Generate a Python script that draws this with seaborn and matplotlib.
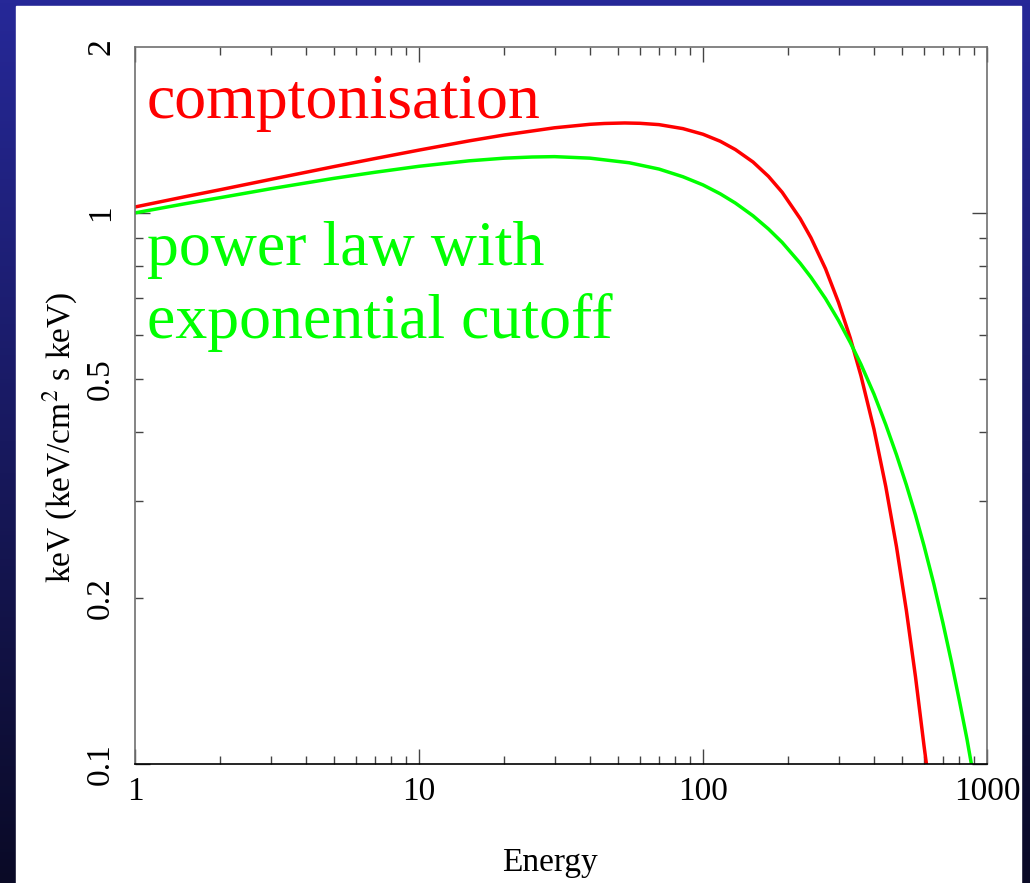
import numpy as np
import pandas as pd
import matplotlib
matplotlib.use("Agg")
import matplotlib.pyplot as plt
import seaborn as sns
from matplotlib.ticker import LogLocator, FixedLocator, NullFormatter, FixedFormatter

# ---- data ----
energy_compt = [1, 1.5, 2, 3, 5, 7, 10, 15, 20, 30, 40, 45, 53, 60, 70, 85, 100, 115, 130, 150,
                170, 190, 220, 240, 270, 300, 330, 360, 400, 440, 480, 520, 560, 600, 620, 650]
flux_compt = [1.025, 1.070, 1.102, 1.150, 1.213, 1.255, 1.300, 1.351, 1.385, 1.427, 1.448, 1.453,
              1.456, 1.454, 1.446, 1.422, 1.389, 1.349, 1.303, 1.237, 1.165, 1.090, 0.976, 0.901,
              0.792, 0.688, 0.593, 0.506, 0.405, 0.319, 0.248, 0.190, 0.144, 0.108, 0.095, 0.074]

energy_cut = [1, 1.5, 2, 3, 5, 7, 10, 15, 20, 25, 30, 40, 55, 70, 85, 100, 115, 130, 150, 170, 190,
              220, 240, 270, 300, 330, 360, 400, 440, 480, 520, 560, 600, 650, 700, 750, 800, 850,
              900, 950]
flux_cut = [1.000, 1.039, 1.066, 1.106, 1.155, 1.185, 1.215, 1.243, 1.257, 1.263, 1.265, 1.257,
            1.233, 1.201, 1.163, 1.124, 1.083, 1.042, 0.988, 0.935, 0.884, 0.810, 0.764, 0.699,
            0.638, 0.582, 0.531, 0.469, 0.413, 0.364, 0.321, 0.283, 0.249, 0.212, 0.180, 0.153,
            0.130, 0.111, 0.094, 0.080]

x_ticks = [1, 10, 100, 1000]
x_labels = ["1", "10", "100", "1000"]
y_ticks = [0.1, 0.2, 0.5, 1, 2]
y_labels = ["0.1", "0.2", "0.5", "1", "2"]

series_names = ["comptonisation", "power law with\nexponential cutoff"]

df = pd.concat([
    pd.DataFrame({"Energy": energy_compt, "flux": flux_compt, "model": "compt"}),
    pd.DataFrame({"Energy": energy_cut, "flux": flux_cut, "model": "cutoff"}),
])

sns.set_theme(style="ticks")
plt.rcParams["font.family"] = ["Liberation Serif", "DejaVu Serif"]
plt.rcParams["mathtext.fontset"] = "stix"

W, H = 1030, 883
fig = plt.figure(figsize=(W / 100, H / 100), dpi=100)

# background gradient + white panel
bg = fig.add_axes([0, 0, 1, 1], zorder=-10)
grad = np.linspace(0, 1, 256)[:, None]
top = np.array([38, 40, 152]) / 255
bot = np.array([10, 10, 38]) / 255
img = (top[None, None, :] * (1 - grad[:, :, None]) + bot[None, None, :] * grad[:, :, None])
bg.imshow(np.repeat(img, 2, axis=1), aspect="auto", extent=[0, 1, 0, 1])
bg.add_patch(plt.Rectangle((16 / W, 0), (1021 - 16) / W, (H - 6) / H, color="white", zorder=2))
bg.set_xlim(0, 1); bg.set_ylim(0, 1)
bg.axis("off")

ax = fig.add_axes([135 / W, (H - 764) / H, (987 - 135) / W, (764 - 47) / H])
ax.set_facecolor("white")

sns.lineplot(data=df, x="Energy", y="flux", hue="model", palette={"compt": "#ff0000", "cutoff": "#00ff00"},
             linewidth=2.5, ax=ax, legend=False, sort=False, estimator=None)

ax.set_xscale("log")
ax.set_yscale("log")
ax.set_xlim(1, 1000)
ax.set_ylim(0.1, 2)

ax.xaxis.set_major_locator(FixedLocator(x_ticks))
ax.xaxis.set_major_formatter(FixedFormatter(x_labels))
ax.xaxis.set_minor_locator(LogLocator(base=10, subs=np.arange(2, 10)))
ax.xaxis.set_minor_formatter(NullFormatter())

ax.yaxis.set_major_locator(FixedLocator([0.1, 1]))
ax.yaxis.set_major_formatter(NullFormatter())
ax.yaxis.set_minor_locator(FixedLocator([0.2, 0.3, 0.4, 0.5, 0.6, 0.7, 0.8, 0.9]))
ax.yaxis.set_minor_formatter(NullFormatter())

ax.tick_params(axis="both", which="both", direction="in", top=True, right=True, colors="#444444",
               width=1.0)
ax.tick_params(axis="both", which="major", length=11, labelsize=24, labelcolor="black", pad=9)
ax.tick_params(axis="both", which="minor", length=5.8)
ax.tick_params(axis="y", which="both", labelleft=False)

# rotated y tick labels
for v, lab in zip(y_ticks, y_labels):
    ax.text(-0.04, v, lab, transform=ax.get_yaxis_transform(), rotation=90,
            ha="center", va="center", fontsize=24, color="black")

for s in ax.spines.values():
    s.set_color("#707070")
    s.set_linewidth(1.2)
ax.spines["bottom"].set_color("black")

ax.set_xlabel("Energy", fontsize=24, color="black")
ax.xaxis.set_label_coords(0.487, -0.138)
ax.xaxis.label.set_va("center")
ax.set_ylabel("keV (keV/cm$^2$ s keV)", fontsize=24, color="black")
ax.yaxis.set_label_coords(-0.088, 0.456)
ax.yaxis.label.set_va("center")

fig.text(147 / W, 1 - 118 / H, series_names[0], color="#ff0000", fontsize=46, va="baseline", ha="left")
fig.text(147 / W, 1 - 265 / H, series_names[1].split("\n")[0], color="#00ff00", fontsize=46,
         va="baseline", ha="left")
fig.text(147 / W, 1 - 338 / H, series_names[1].split("\n")[1], color="#00ff00", fontsize=46,
         va="baseline", ha="left")

fig.savefig("out.png", dpi=100)
